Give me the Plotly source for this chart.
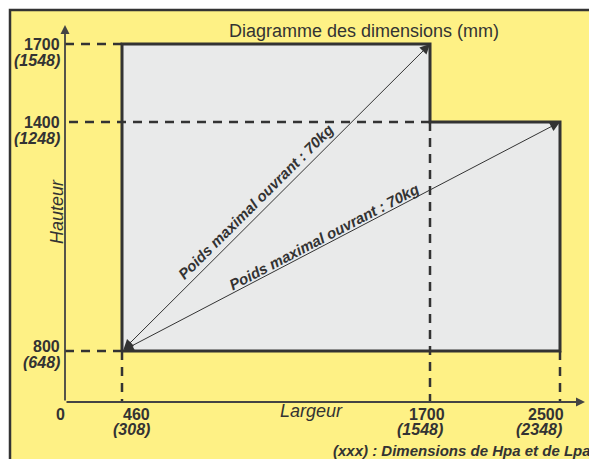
import math
import numpy as np
import plotly.graph_objects as go

# ---------------- data ----------------
x_values = [0, 460, 1700, 2500]                  # width ticks (mm)
x_sub_labels = ["", "(308)", "(1548)", "(2348)"]
y_values = [800, 1400, 1700]                     # height ticks (mm)
y_sub_labels = ["(648)", "(1248)", "(1548)"]

# outline of the usable zone (width, height) in mm
outline_w = [460, 460, 1700, 1700, 2500, 2500, 460]
outline_h = [800, 1700, 1700, 1400, 1400, 800, 800]

# dashed guide lines: horizontal (height, from width) and vertical (width, from height)
guide_h = [(800, 460), (1400, 1700), (1700, 460)]
guide_v = [(460, 800), (1700, 1400), (2500, 800)]

arrow_from = (460, 800)
arrow_to = [(1700, 1700), (2500, 1400)]
arrow_label = "Poids maximal ouvrant : 70kg"

title_text = "Diagramme des dimensions (mm)"
x_title = "Largeur"
y_title = "Hauteur"
footnote = "(xxx) : Dimensions de Hpa et de Lpa"

# ---------------- schematic (not to scale) axis mapping ----------------
X_POS = [0, 57, 365, 495]
Y_POS = [0, 51, 280, 358]
Y_MM = [0] + y_values


def sx(v):
    return float(np.interp(v, x_values, X_POS))


def sy(v):
    return float(np.interp(v, Y_MM, Y_POS))


# page has an 8px body margin: the figure is placed at (8, 8)
OFF = 8
PW, PH = 597, 459
W, H = PW - OFF, PH - OFF


def px(p):   # page pixel x -> paper fraction
    return (p - OFF) / W


def py(p):   # page pixel y -> paper fraction
    return 1 - (p - OFF) / H


ORIG_X, ORIG_Y = 65 - OFF, 402 - OFF   # origin in figure pixels

DARK = "#333333"
YELLOW = "#fef185"
GRAY = "#e9eaea"
FONT = "Liberation Sans, Arial, sans-serif"

fig = go.Figure()

# gray fill
fig.add_trace(go.Scatter(x=[sx(v) for v in outline_w], y=[sy(v) for v in outline_h],
                         mode="lines", fill="toself", fillcolor=GRAY,
                         line=dict(width=0), hoverinfo="skip", showlegend=False))

# dashed guides (drawn from the corner toward the axis)
for hy, wx in guide_h:
    fig.add_trace(go.Scatter(x=[sx(wx), sx(0)], y=[sy(hy), sy(hy)], mode="lines",
                             line=dict(color=DARK, width=2.5, dash="9px,7px"),
                             hoverinfo="skip", showlegend=False))
for wx, hy in guide_v:
    fig.add_trace(go.Scatter(x=[sx(wx), sx(wx)], y=[sy(hy), sy(0)], mode="lines",
                             line=dict(color=DARK, width=2.5, dash="9px,7px"),
                             hoverinfo="skip", showlegend=False))

# outline border
fig.add_trace(go.Scatter(x=[sx(v) for v in outline_w], y=[sy(v) for v in outline_h],
                         mode="lines", line=dict(color=DARK, width=3),
                         hoverinfo="skip", showlegend=False))

annotations = []

# axis arrows
X_TIP = 520
Y_TIP = 377
annotations.append(dict(x=X_TIP, y=0, ax=0, ay=0, axref="x", ayref="y", xref="x", yref="y",
                        text="", showarrow=True, arrowhead=2, arrowsize=1.0, arrowwidth=1.8,
                        arrowcolor="#444444", standoff=0))
annotations.append(dict(x=0, y=Y_TIP, ax=0, ay=0, axref="x", ayref="y", xref="x", yref="y",
                        text="", showarrow=True, arrowhead=2, arrowsize=1.0, arrowwidth=1.8,
                        arrowcolor="#444444", standoff=0))

# double-headed diagonal arrows with labels
for (tx, ty), t_frac, off in zip(arrow_to, [0.46, 0.47], [11, 8]):
    x0, y0 = sx(arrow_from[0]), sy(arrow_from[1])
    x1, y1 = sx(tx), sy(ty)
    annotations.append(dict(x=x1, y=y1, ax=x0, ay=y0, axref="x", ayref="y", xref="x", yref="y",
                            text="", showarrow=True, arrowhead=2, arrowside="end+start",
                            arrowsize=2.0, arrowwidth=1, arrowcolor=DARK,
                            standoff=0, startstandoff=0))
    dx, dy = x1 - x0, y1 - y0
    ln = math.hypot(dx, dy)
    ang = math.degrees(math.atan2(dy, dx))
    lx = x0 + dx * t_frac + off * (-dy / ln)
    ly = y0 + dy * t_frac + off * (dx / ln)
    annotations.append(dict(x=lx, y=ly, xref="x", yref="y", text=arrow_label, showarrow=False,
                            textangle=-ang, xanchor="center", yanchor="middle",
                            font=dict(family=FONT, size=15, color=DARK, weight="bold", style="italic")))

# y tick labels
Y_NUM_SHIFT = [5, 0, 0]
for v, sub, shf in zip(y_values, y_sub_labels, Y_NUM_SHIFT):
    annotations.append(dict(x=0, y=sy(v), xref="x", yref="y", text=str(v), showarrow=False,
                            xanchor="right", yanchor="middle", xshift=-3, yshift=shf,
                            font=dict(family=FONT, size=16, color=DARK, weight="bold")))
    annotations.append(dict(x=0, y=sy(v), xref="x", yref="y", text=sub, showarrow=False,
                            xanchor="right", yanchor="middle", xshift=-3, yshift=shf - 16,
                            font=dict(family=FONT, size=16, color=DARK, weight="bold", style="italic")))

# x tick labels
X_NUM_SHIFT = [-5, 14, -3, -14]
X_SUB_SHIFT = [-5, 9, -10, -21]
for v, sub, s1, s2 in zip(x_values, x_sub_labels, X_NUM_SHIFT, X_SUB_SHIFT):
    annotations.append(dict(x=sx(v), y=0, xref="x", yref="y", text=str(v), showarrow=False,
                            xanchor="center", yanchor="middle", xshift=s1, yshift=-12,
                            font=dict(family=FONT, size=16, color=DARK, weight="bold")))
    if sub:
        annotations.append(dict(x=sx(v), y=0, xref="x", yref="y", text=sub, showarrow=False,
                                xanchor="center", yanchor="middle", xshift=s2, yshift=-27,
                                font=dict(family=FONT, size=16, color=DARK, weight="bold", style="italic")))

# titles
annotations.append(dict(x=px(364), y=py(31), xref="paper", yref="paper", text=title_text,
                        showarrow=False, xanchor="center", yanchor="middle",
                        font=dict(family=FONT, size=18, color=DARK)))
annotations.append(dict(x=px(311), y=py(411), xref="paper", yref="paper", text=x_title,
                        showarrow=False, xanchor="center", yanchor="middle",
                        font=dict(family=FONT, size=18, color=DARK, style="italic")))
annotations.append(dict(x=px(57), y=py(212), xref="paper", yref="paper", text=y_title,
                        showarrow=False, xanchor="center", yanchor="middle", textangle=-90,
                        font=dict(family=FONT, size=18, color=DARK, style="italic")))
annotations.append(dict(x=px(593), y=py(450), xref="paper", yref="paper", text=footnote,
                        showarrow=False, xanchor="right", yanchor="middle",
                        font=dict(family=FONT, size=15, color=DARK, weight="bold", style="italic")))

fig.update_layout(
    width=W, height=H, autosize=False,
    margin=dict(l=0, r=0, t=0, b=0, pad=0),
    paper_bgcolor="white", plot_bgcolor="rgba(0,0,0,0)",
    showlegend=False,
    xaxis=dict(range=[-ORIG_X, W - ORIG_X], visible=False, fixedrange=True),
    yaxis=dict(range=[ORIG_Y - H, ORIG_Y], visible=False, fixedrange=True),
    annotations=annotations,
    shapes=[dict(type="rect", xref="paper", yref="paper", x0=px(10), x1=1.02,
                 y0=-0.02, y1=py(10), fillcolor=YELLOW,
                 line=dict(color=DARK, width=2.5), layer="below")],
)

fig.write_html("out.html")
